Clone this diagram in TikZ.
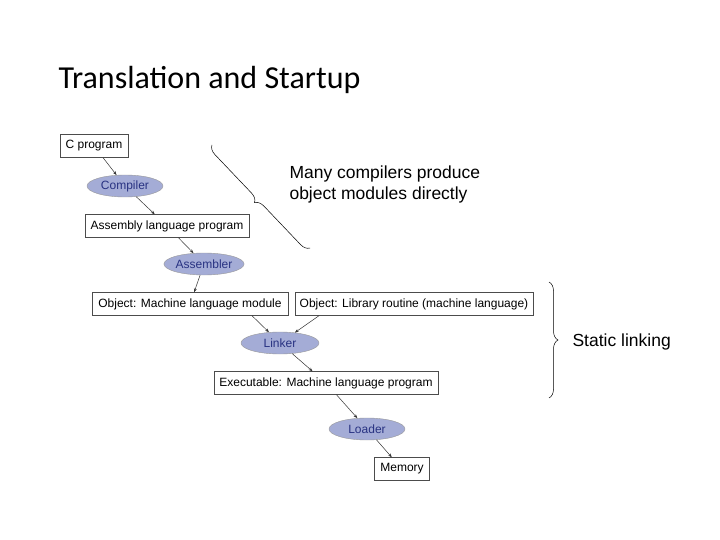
\documentclass[tikz,border=0pt]{standalone}
\usepackage{fontspec}
\setmainfont{Liberation Sans}
\newfontfamily\titlefont{Carlito}
\usetikzlibrary{shapes.geometric,arrows.meta,decorations.pathreplacing}
\definecolor{ovalfill}{RGB}{164,172,214}
\definecolor{ovaltext}{RGB}{40,50,130}
\tikzset{
  stagebox/.style={draw=black!70, fill=white, inner sep=0pt, minimum height=23, font=\fontsize{12}{14}\selectfont},
  tooloval/.style={ellipse, draw=black!40, fill=ovalfill, text=ovaltext, inner sep=0pt, minimum width=76, minimum height=22, font=\fontsize{12}{14}\selectfont},
  flow/.style={-{Stealth[length=4pt,width=3pt]}, black!80, line width=0.5pt},
  bracket/.style={decorate, decoration={brace, amplitude=9pt}, line width=0.5pt}
}
\begin{document}
\begin{tikzpicture}[x=1pt, y=-1pt]
	\useasboundingbox (0,0) rectangle (720,540);
	\node [anchor=west, font=\titlefont\fontsize{32}{36}\selectfont] (title) at (55,80) {Translation and Startup};
	
	\node [stagebox, minimum width=68] (cprog) at (94,146) {C program};
	\node [tooloval] (compiler) at (125,186) {Compiler};
	\node [stagebox, minimum width=164] (asm) at (167,226) {Assembly language program};
	\node [tooloval] (assembler) at (204,264) {Assembler};
	\node [stagebox, minimum width=196] (obj) at (190,304) {Object: Machine language module};
	\node [stagebox, minimum width=238] (lib) at (414,304) {Object: Library routine (machine language)};
	\node [tooloval, minimum width=78] (linker) at (280,343) {Linker};
	\node [stagebox, minimum width=224] (exe) at (326,383) {Executable: Machine language program};
	\node [tooloval] (loader) at (367,429) {Loader};
	\node [stagebox, minimum width=55] (memory) at (402,469) {Memory};
	
	\coordinate (b1top) at (212,145);
	\coordinate (b1bot) at (310,248);
	\coordinate (b2top) at (549,282);
	\coordinate (b2bot) at (549,398);
	
	\node [anchor=north west, align=left, font=\fontsize{17.5}{21}\selectfont] (many) at (286,162) {Many compilers produce\\object modules directly};
	\node [anchor=west, font=\fontsize{17.5}{20}\selectfont] (static) at (569,342) {Static linking};
	
	\draw [flow] (cprog) -- (compiler);
	\draw [flow] (compiler) -- (asm);
	\draw [flow] (asm) -- (assembler);
	\draw [flow] (assembler) -- (obj);
	\draw [flow] ([xshift=62]obj.south) -- (linker);
	\draw [flow] ([xshift=-95]lib.south) -- (linker);
	\draw [flow] (linker) -- (exe);
	\draw [flow] (exe) -- (loader);
	\draw [flow] (loader) -- (memory);
	
	\draw [bracket, decoration={mirror}] (b1top) -- (b1bot);
	\draw [bracket] (b2top) -- (b2bot);
\end{tikzpicture}
\end{document}
